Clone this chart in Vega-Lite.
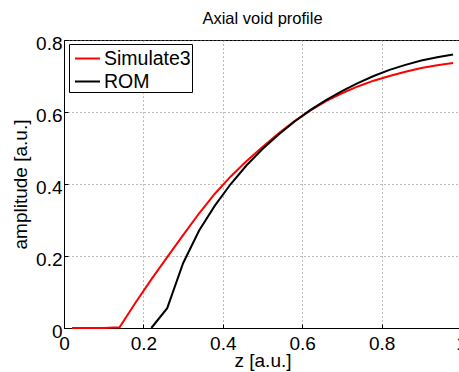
{
  "$schema": "https://vega.github.io/schema/vega-lite/v6.json",
  "width": 397,
  "height": 288,
  "autosize": "none",
  "padding": {"left": 64, "top": 40, "right": 0, "bottom": 44},
  "background": "white",
  "title": {"text": "Axial void profile", "fontSize": 16.5, "font": "Liberation Sans", "fontWeight": "normal", "color": "black", "offset": 7, "anchor": "middle"},
  "data": {"values": [
    {"z": 0.02, "amp": 0, "series": "Simulate3"},
    {"z": 0.06, "amp": 0, "series": "Simulate3"},
    {"z": 0.10, "amp": 0, "series": "Simulate3"},
    {"z": 0.14, "amp": 0.002, "series": "Simulate3"},
    {"z": 0.18, "amp": 0.07, "series": "Simulate3"},
    {"z": 0.22, "amp": 0.135, "series": "Simulate3"},
    {"z": 0.26, "amp": 0.197, "series": "Simulate3"},
    {"z": 0.30, "amp": 0.258, "series": "Simulate3"},
    {"z": 0.34, "amp": 0.318, "series": "Simulate3"},
    {"z": 0.38, "amp": 0.373, "series": "Simulate3"},
    {"z": 0.42, "amp": 0.421, "series": "Simulate3"},
    {"z": 0.46, "amp": 0.464, "series": "Simulate3"},
    {"z": 0.50, "amp": 0.503, "series": "Simulate3"},
    {"z": 0.54, "amp": 0.54, "series": "Simulate3"},
    {"z": 0.58, "amp": 0.574, "series": "Simulate3"},
    {"z": 0.62, "amp": 0.604, "series": "Simulate3"},
    {"z": 0.66, "amp": 0.63, "series": "Simulate3"},
    {"z": 0.70, "amp": 0.652, "series": "Simulate3"},
    {"z": 0.74, "amp": 0.671, "series": "Simulate3"},
    {"z": 0.78, "amp": 0.687, "series": "Simulate3"},
    {"z": 0.82, "amp": 0.700, "series": "Simulate3"},
    {"z": 0.86, "amp": 0.712, "series": "Simulate3"},
    {"z": 0.90, "amp": 0.722, "series": "Simulate3"},
    {"z": 0.94, "amp": 0.73, "series": "Simulate3"},
    {"z": 0.98, "amp": 0.736, "series": "Simulate3"},
    {"z": 0.22, "amp": 0, "series": "ROM"},
    {"z": 0.26, "amp": 0.055, "series": "ROM"},
    {"z": 0.30, "amp": 0.18, "series": "ROM"},
    {"z": 0.34, "amp": 0.27, "series": "ROM"},
    {"z": 0.38, "amp": 0.34, "series": "ROM"},
    {"z": 0.42, "amp": 0.40, "series": "ROM"},
    {"z": 0.46, "amp": 0.452, "series": "ROM"},
    {"z": 0.50, "amp": 0.497, "series": "ROM"},
    {"z": 0.54, "amp": 0.537, "series": "ROM"},
    {"z": 0.58, "amp": 0.573, "series": "ROM"},
    {"z": 0.62, "amp": 0.605, "series": "ROM"},
    {"z": 0.66, "amp": 0.633, "series": "ROM"},
    {"z": 0.70, "amp": 0.658, "series": "ROM"},
    {"z": 0.74, "amp": 0.68, "series": "ROM"},
    {"z": 0.78, "amp": 0.70, "series": "ROM"},
    {"z": 0.82, "amp": 0.717, "series": "ROM"},
    {"z": 0.86, "amp": 0.731, "series": "ROM"},
    {"z": 0.90, "amp": 0.743, "series": "ROM"},
    {"z": 0.94, "amp": 0.752, "series": "ROM"},
    {"z": 0.98, "amp": 0.76, "series": "ROM"}
  ]},
  "mark": {"type": "line", "strokeWidth": 2},
  "encoding": {
    "x": {"field": "z", "type": "quantitative", "scale": {"domain": [0, 1], "nice": false, "zero": false},
      "axis": {"title": "z [a.u.]", "values": [0, 0.2, 0.4, 0.6, 0.8, 1], "format": "~g", "labelFlush": false, "labelOverlap": false, "labelPadding": 10, "titleBaseline": "alphabetic", "titleY": 38, "titleX": 198.5}},
    "y": {"field": "amp", "type": "quantitative", "scale": {"domain": [0, 0.8], "nice": false},
      "axis": {"title": "amplitude [a.u.]", "values": [0, 0.2, 0.4, 0.6, 0.8], "format": "~g", "labelFlush": false, "labelOverlap": false, "labelPadding": 6, "labelOffset": 3, "titleBaseline": "alphabetic", "titleX": -38, "titleY": 144}},
    "color": {"field": "series", "type": "nominal", "sort": ["Simulate3", "ROM"],
      "scale": {"domain": ["Simulate3", "ROM"], "range": ["#ff0000", "#000000"]},
      "legend": {"title": null, "orient": "none", "legendX": 5, "legendY": 4, "symbolType": "M-1,0H1", "symbolSize": 625, "symbolStrokeWidth": 2, "symbolOffset": 4, "labelFontSize": 19.5, "labelFont": "Liberation Sans", "labelColor": "black", "labelOffset": 3, "padding": 1, "strokeColor": "black", "fillColor": "white", "rowPadding": 0, "labelLimit": 300}}
  },
  "config": {
    "view": {"stroke": "black", "strokeWidth": 1},
    "axis": {"labelFont": "Liberation Sans", "labelFontSize": 19, "labelColor": "black", "titleFont": "Liberation Sans", "titleFontSize": 19, "titleFontWeight": "normal", "titleColor": "black", "domainColor": "black", "domainWidth": 1, "ticks": true, "tickSize": -4, "tickColor": "black", "tickWidth": 1, "gridColor": "#777777", "gridDash": [1, 3], "gridWidth": 1, "gridOpacity": 1}
  }
}
